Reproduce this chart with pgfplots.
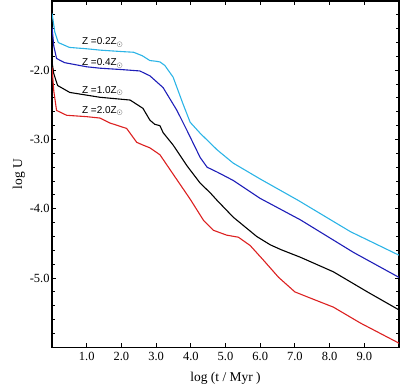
\documentclass[border=0pt]{standalone}
\usepackage{fontspec}
\setmainfont{Liberation Serif}
\newfontfamily\labelsans{Liberation Sans}
\usepackage{pgfplots}
\pgfplotsset{compat=1.18}
\definecolor{zcyan}{HTML}{2CB4E6}
\definecolor{zblue}{HTML}{1E1EB8}
\definecolor{zred}{HTML}{DC2020}

\begin{document}
\begin{tikzpicture}
\begin{axis}[
    name=ax,
    scale only axis,
    width=346.6bp,
    height=346bp,
    xmin=0, xmax=10,
    ymin=-6, ymax=-1,
    xtick={1,2,...,9},
    xticklabels={1.0,2.0,3.0,4.0,5.0,6.0,7.0,8.0,9.0},
    ytick={-5,-4,-3,-2},
    yticklabels={-5.0,-4.0,-3.0,-2.0},
    minor ytick={-5.8,-5.6,...,-1.1},
    tick align=inside,
    tick pos=both,
    major tick length=4bp,
    minor tick length=2.5bp,
    every tick/.style={black, line width=1pt},
    axis line style={line width=1.4pt},
    tick label style={font=\fontsize{12.5}{14}\selectfont},
    xticklabel style={yshift=-1bp},
    yticklabel style={xshift=1bp},
    every axis plot/.style={line width=1.1pt, line join=round},
]
% Z = 0.2 Zsun
\addplot[zcyan] coordinates {
(0,-1.18) (0.08,-1.45) (0.18,-1.60) (0.5,-1.67) (1.0,-1.69) (1.4,-1.71)
(2.0,-1.73) (2.35,-1.74) (2.6,-1.79) (2.82,-1.86) (3.0,-1.87) (3.11,-1.88)
(3.25,-1.93) (3.49,-2.10) (3.77,-2.48) (3.98,-2.75) (4.27,-2.91) (4.76,-3.15)
(5.22,-3.34) (6.0,-3.57) (7.1,-3.88) (8.6,-4.33) (10,-4.67)};
% Z = 0.4 Zsun
\addplot[zblue] coordinates {
(0,-1.38) (0.05,-1.65) (0.13,-1.83) (0.36,-1.89) (1.0,-1.95) (1.38,-1.97)
(2.0,-1.99) (2.53,-2.01) (2.82,-2.08) (3.20,-2.25) (3.60,-2.58) (3.89,-2.87)
(4.27,-3.26) (4.47,-3.40) (4.76,-3.47) (5.22,-3.59) (6.0,-3.85) (7.16,-4.16)
(8.69,-4.63) (10,-4.99)};
% Z = 1.0 Zsun
\addplot[black] coordinates {
(0,-1.88) (0.05,-2.05) (0.16,-2.22) (0.51,-2.32) (1.38,-2.39) (2.25,-2.43)
(2.62,-2.55) (2.82,-2.72) (2.96,-2.78) (3.11,-2.80) (3.20,-2.90) (3.49,-3.08)
(3.89,-3.38) (4.27,-3.63) (4.56,-3.77) (4.76,-3.88) (5.22,-4.12) (5.90,-4.40)
(6.29,-4.52) (6.6,-4.59) (7.16,-4.70) (8.11,-4.91) (9.09,-5.20) (10,-5.46)};
% Z = 2.0 Zsun
\addplot[zred] coordinates {
(0,-1.96) (0.05,-2.30) (0.13,-2.58) (0.42,-2.65) (1.0,-2.67) (1.38,-2.69) (1.66,-2.76)
(2.15,-2.84) (2.44,-3.04) (2.62,-3.08) (2.82,-3.12) (3.11,-3.22) (3.49,-3.50)
(3.98,-3.86) (4.37,-4.17) (4.65,-4.31) (5.03,-4.38) (5.37,-4.41) (5.71,-4.53)
(6.09,-4.74) (6.53,-4.99) (7.0,-5.20) (7.45,-5.29) (8.11,-5.42) (8.89,-5.65)
(10,-5.94)};
\begin{scope}[every node/.style={anchor=west, inner sep=0pt, font=\labelsans\fontsize{10}{11}\selectfont}]
\node at (axis cs:0.86,-1.60) {Z =0.2Z$_\odot$};
\node at (axis cs:0.86,-1.90) {Z =0.4Z$_\odot$};
\node at (axis cs:0.86,-2.30) {Z =1.0Z$_\odot$};
\node at (axis cs:0.86,-2.59) {Z =2.0Z$_\odot$};
\end{scope}
\end{axis}
% axis labels
\node[rotate=90, font=\fontsize{13.5}{15}\selectfont] at ([xshift=-33bp]ax.west) {log U};
\node[font=\fontsize{13.5}{15}\selectfont] at ([yshift=-31bp]ax.south) {log (t / Myr )};
% page extent as in the reference
\path ([xshift=-52bp, yshift=-42bp]ax.south west) ([xshift=6bp, yshift=1bp]ax.north east);
\end{tikzpicture}
\end{document}
